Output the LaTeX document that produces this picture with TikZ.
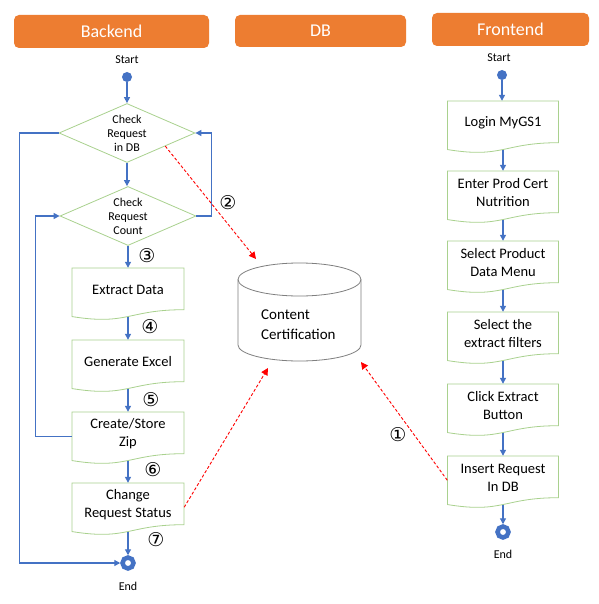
\documentclass[tikz,border=0pt]{standalone}
\usepackage{fontspec}
\setmainfont{Carlito}
\newfontfamily\symfont{DejaVu Sans}
\usetikzlibrary{arrows.meta,calc,shapes.geometric}
\definecolor{hdr}{HTML}{ED7D31}
\definecolor{flowblue}{HTML}{4472C4}
\definecolor{boxgreen}{HTML}{A9D18E}
\definecolor{cylgray}{HTML}{7F7F7F}
\newcommand\docbox[6]{%
  \node[inner sep=0, minimum width=#4pt, minimum height={0.933*#5pt}] (#1) at (#2,{#3+0.4665*#5}) {};
  \node[boxtext] (#1-t) at (#2,{#3+0.42*#5}) {#6};
  \draw[docline] ({#2-#4/2},#3) -- ({#2+#4/2},#3) -- ({#2+#4/2},{#3+0.802*#5})
    .. controls (#2,{#3+0.802*#5}) and (#2,{#3+1.1075*#5}) .. ({#2-#4/2},{#3+0.934*#5}) -- cycle;
}
\begin{document}
\begin{tikzpicture}[x=1pt,y=-1pt,
  header/.style={fill=hdr, rounded corners=5pt, text=white, font=\fontsize{18}{20}\selectfont, inner sep=0},
  flow/.style={draw=flowblue, line width=1.3pt, -{Triangle[length=6pt,width=6pt]}},
  dbflow/.style={draw=red, line width=0.9pt, dash pattern=on 3pt off 2pt, -{Triangle[length=7pt,width=7pt]}},
  docline/.style={draw=boxgreen, line width=0.8pt},
  boxtext/.style={align=center, font=\fontsize{14.5}{18}\selectfont, inner sep=0},
  dectext/.style={align=center, font=\fontsize{12}{14}\selectfont, inner sep=0},
  decision/.style={diamond, draw=boxgreen, line width=0.8pt, minimum width=136pt, minimum height=59pt, inner sep=0},
  stepnum/.style={font=\symfont\fontsize{19}{19}\selectfont, inner sep=0},
  smalltext/.style={font=\fontsize{12}{14}\selectfont, inner sep=0},
  startdot/.style={circle, fill=flowblue, minimum size=10pt, inner sep=0},
  enddot/.style={circle, draw=flowblue, line width=4.5pt, minimum size=11pt, inner sep=0},
]
\useasboundingbox (0,0) rectangle (598,604);
\fill[white] (0,0) rectangle (598,604);

% headers
\node[header, minimum width=195pt, minimum height=33pt] (hb) at (111.5,31.5) {Backend};
\node[header, minimum width=171pt, minimum height=32pt] (hd) at (320.5,31) {DB};
\node[header, minimum width=157pt, minimum height=33pt] (hf) at (510.5,29.5) {Frontend};

% ---------------- Backend ----------------
\node[smalltext] (bsl) at (127,60) {Start};
\node[startdot] (bs) at (127,77) {};
\node[decision] (d1) at (127,133) {};
\node[dectext] (d1t) at (127,133) {Check\\Request\\in DB};
\node[decision] (d2) at (128,216) {};
\node[dectext] (d2t) at (128,216) {Check\\Request\\Count};
\docbox{ext}{128}{268}{112}{52}{Extract Data}
\docbox{gen}{128}{340}{112}{52}{Generate Excel}
\docbox{zip}{128}{412}{112}{52}{Create/Store\\Zip}
\docbox{chg}{128}{483}{112}{52}{Change\\Request Status}
\node[enddot] (be) at (128,563) {};
\node[smalltext] (bel) at (128,586) {End};

\draw[flow] (bs) -- (d1.north);
\draw[flow] (d1.south) -- (d1.south |- d2.north);
\draw[flow] (d2.south) -- (ext.north);
\draw[flow] (ext.south) -- (gen.north);
\draw[flow] (gen.south) -- (zip.north);
\draw[flow] (zip.south) -- (chg.north);
\draw[flow] (chg.south) -- (be.north);
\draw[flow] (d2.east) -- ++(15,0) |- (d1.east);
\draw[flow] (d1.west) -- ++(-39,0) |- (be.west);
\draw[flow] (zip.west) -- ++(-36,0) |- (d2.west);

\node[stepnum] (n2) at (228,203) {②};
\node[stepnum] (n3) at (147,256) {③};
\node[stepnum] (n4) at (150,327) {④};
\node[stepnum] (n5) at (151,400) {⑤};
\node[stepnum] (n6) at (153,470) {⑥};
\node[stepnum] (n7) at (156,540) {⑦};
\node[stepnum] (n1) at (398,435) {①};

% ---------------- DB ----------------
\draw[cylgray, line width=0.8pt] (238,279.5) -- (238,345)
  arc[start angle=180, end angle=360, x radius=61.5pt, y radius=16pt] -- (361,279.5);
\draw[cylgray, line width=0.8pt] (299.5,279.5) ellipse[x radius=61.5pt, y radius=16.5pt];
\node[font=\fontsize{15}{20}\selectfont, align=left, anchor=west, inner sep=0] (db) at (261,325) {Content\\Certification};

% ---------------- Frontend ----------------
\node[smalltext] (fsl) at (499,58) {Start};
\node[startdot] (fs) at (502,75) {};
\docbox{login}{503}{101}{111}{52}{Login MyGS1}
\docbox{enter}{503}{171}{111}{52}{Enter Prod Cert\\Nutrition}
\docbox{menu}{503}{241}{111}{52}{Select Product\\Data Menu}
\docbox{filt}{503}{312}{111}{52}{Select the\\extract filters}
\docbox{click}{503}{384}{111}{52}{Click Extract\\Button}
\docbox{ins}{503}{456}{111}{52}{Insert Request\\In DB}
\node[enddot] (fe) at (503,532) {};
\node[smalltext] (fel) at (503,554) {End};

\draw[flow] (fs) -- (fs |- login.north);
\draw[flow] (login.south) -- (enter.north);
\draw[flow] (enter.south) -- (menu.north);
\draw[flow] (menu.south) -- (filt.north);
\draw[flow] (filt.south) -- (click.north);
\draw[flow] (click.south) -- (ins.north);
\draw[flow] (ins.south) -- (fe.north);

% ---------------- DB accesses ----------------
\coordinate (dbin1) at (256,259);
\coordinate (dbin2) at (268,368);
\coordinate (dbin3) at (361,362);
\draw[dbflow] ($(d1.east)!0.44!(d1.south)$) -- (dbin1);
\draw[dbflow] (chg.east) -- (dbin2);
\draw[dbflow] (ins.west) -- (dbin3);
\end{tikzpicture}
\end{document}
